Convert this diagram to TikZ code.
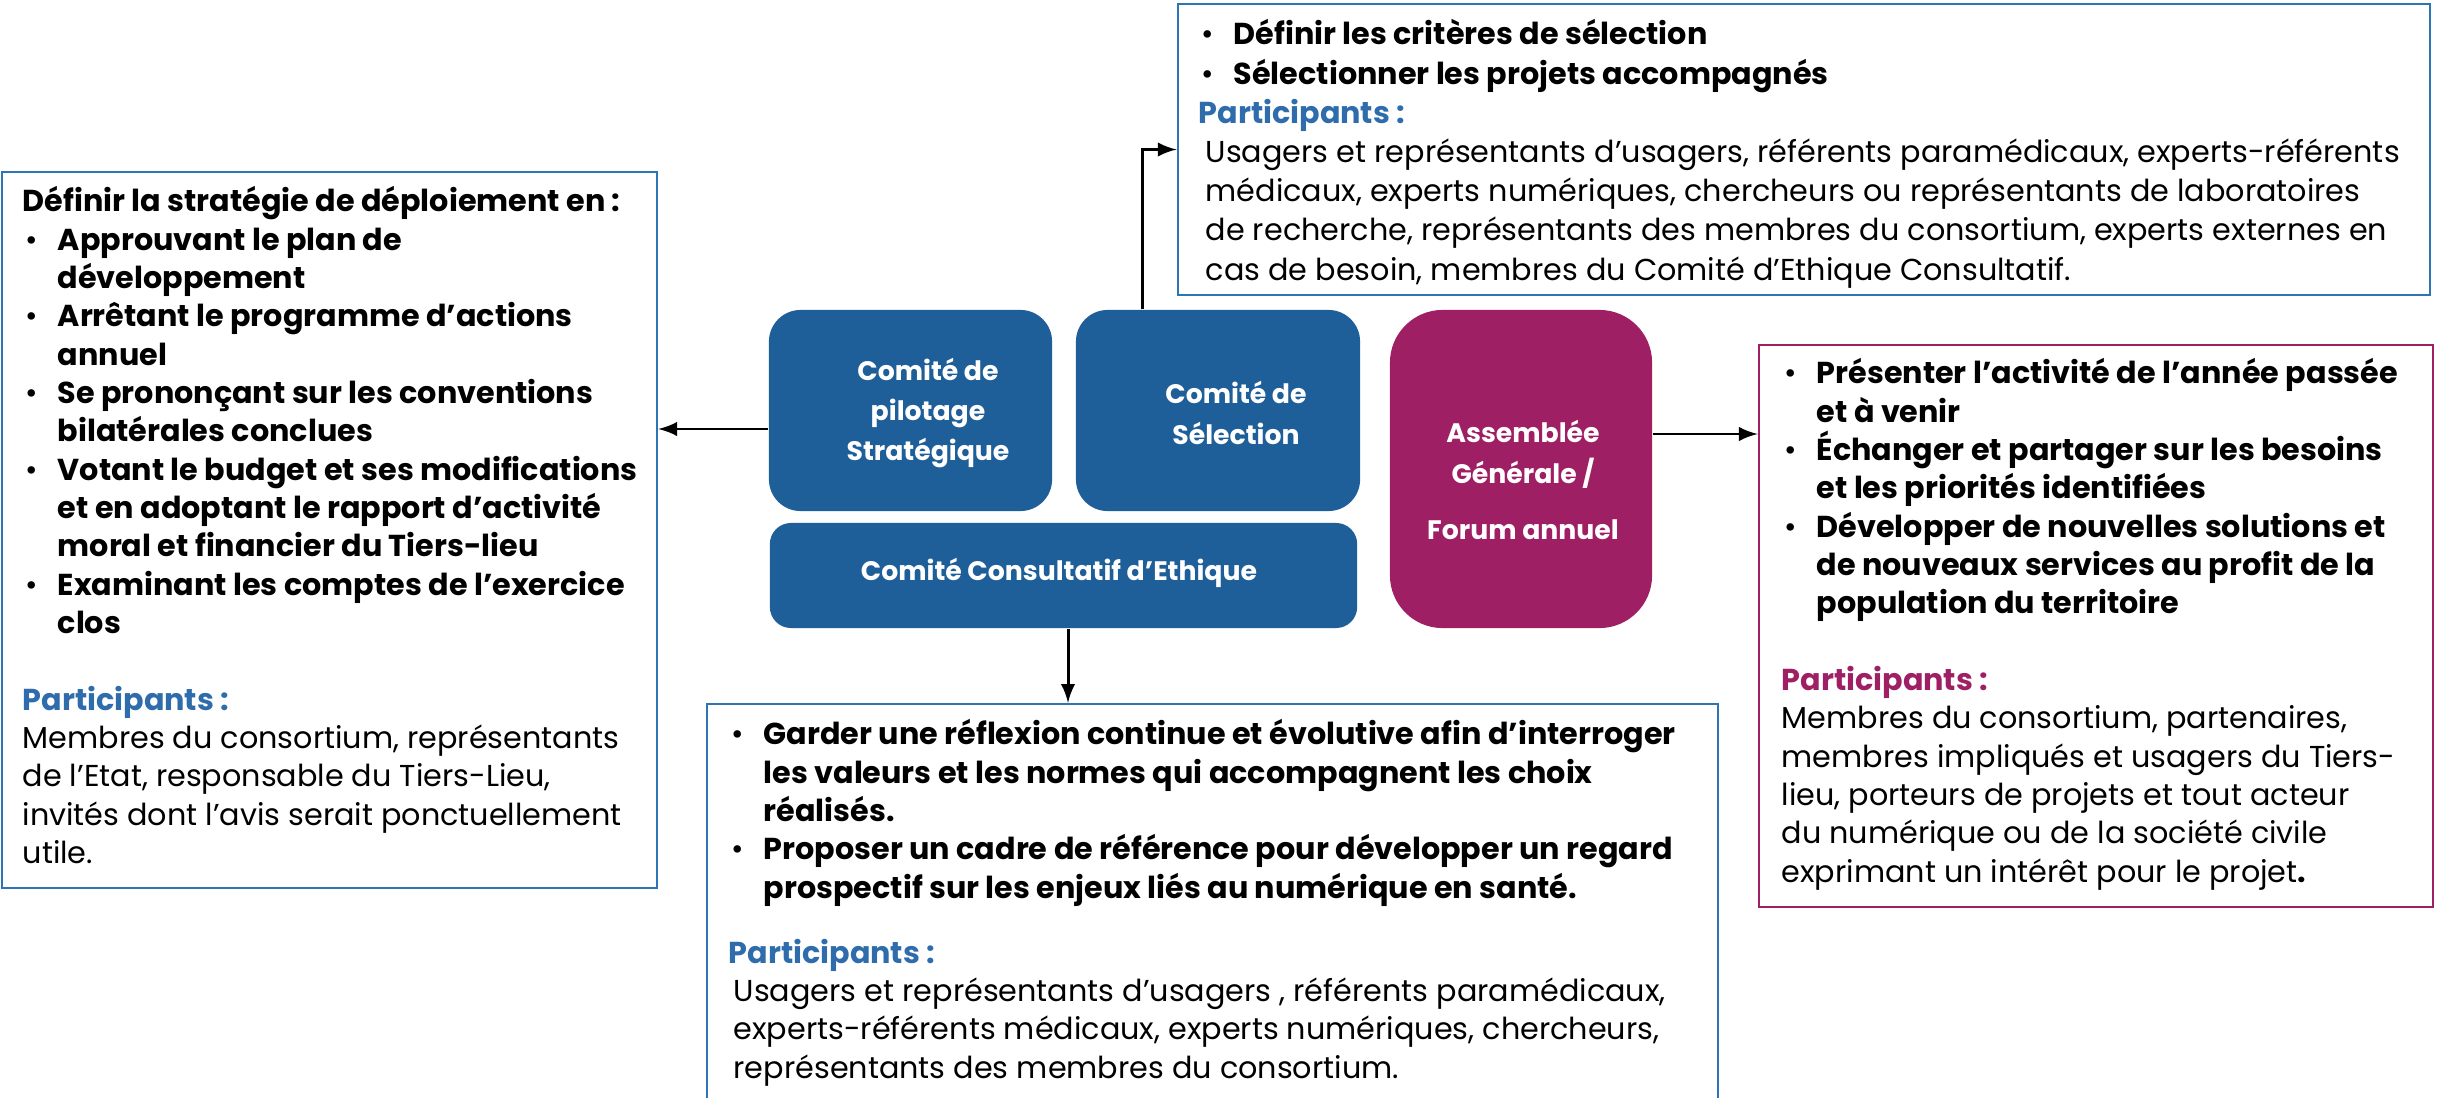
\documentclass[tikz,border=0pt]{standalone}
\usepackage{fontspec}
\setmainfont{Poppins}
\usetikzlibrary{arrows,calc}

\definecolor{bleuComite}{RGB}{31,95,153}
\definecolor{bleuCadre}{RGB}{46,117,182}
\definecolor{bleuTitre}{RGB}{46,108,172}
\definecolor{prune}{RGB}{158,31,99}

\newcommand{\pu}[1]{\hspace*{0.03cm}\makebox[0.32cm][l]{\textbullet}\textbf{#1}}
\newcommand{\su}[1]{\hspace*{0.35cm}\textbf{#1}}

\tikzset{
  comite/.style={fill=bleuComite, inner sep=0pt},
  comtexte/.style={text=white, font=\fontsize{7.6}{11.5}\selectfont\bfseries, align=center, inner sep=0pt},
  cadre/.style={draw=bleuCadre, line width=0.6pt, inner sep=0pt},
  texte/.style={font=\fontsize{8.6}{10.9}\selectfont, align=left, inner sep=0pt, anchor=north west},
  fleche/.style={-latex, line width=0.85pt}
}

\begin{document}
\begin{tikzpicture}[x=0.01cm,y=-0.01cm]
\useasboundingbox (0,0) rectangle (2440,1097);

% les instances
\node[comite, rounded corners=9pt, minimum width=2.83cm, minimum height=2.01cm] (pilot) at (910.5,410.5) {};
\node[comite, rounded corners=9pt, minimum width=2.84cm, minimum height=2.01cm] (sel) at (1218,410.5) {};
\node[comite, rounded corners=6pt, minimum width=5.87cm, minimum height=1.05cm] (ethic) at (1063.5,575.5) {};
\node[comite, fill=prune, rounded corners=15pt, minimum width=2.62cm, minimum height=3.18cm] (ag) at (1521,469) {};

\node[comtexte] (pilotTxt) at (928,413) {Comité de\\pilotage\\Stratégique};
\node[comtexte] (selTxt) at (1236,413) {Comité de\\Sélection};
\node[comtexte] (ethicTxt) at (1059,573) {Comité Consultatif d’Ethique};
\node[comtexte] (agTxt) at (1523,480) {Assemblée\\Générale /\\[4.5pt]Forum annuel};

% les cadres
\node[cadre, minimum width=6.55cm, minimum height=7.16cm] (strat) at (329.5,530) {};
\node[cadre, minimum width=12.52cm, minimum height=2.91cm] (crit) at (1804,149.5) {};
\node[cadre, draw=prune, minimum width=6.74cm, minimum height=5.62cm] (forum) at (2096,626) {};
\node[cadre, minimum width=10.11cm, minimum height=4.10cm] (reflex) at (1212.5,909) {};

\node[texte] (stratTxt) at (22,186) {%
\textbf{Définir la stratégie de déploiement en :}\\
\pu{Approuvant le plan de}\\
\su{développement}\\
\pu{Arrêtant le programme d’actions}\\
\su{annuel}\\
\pu{Se prononçant sur les conventions}\\
\su{bilatérales conclues}\\
\pu{Votant le budget et ses modifications}\\
\su{et en adoptant le rapport d’activité}\\
\su{moral et financier du Tiers-lieu}\\
\pu{Examinant les comptes de l’exercice}\\
\su{clos}\\[10.9pt]
{\color{bleuTitre}\textbf{Participants :}}\\
Membres du consortium, représentants\\
de l’Etat, responsable du Tiers-Lieu,\\
invités dont l’avis serait ponctuellement\\
utile.};

\node[texte, font=\fontsize{8.6}{11.15}\selectfont] (critTxt) at (1198,19) {%
\pu{Définir les critères de sélection}\\
\pu{Sélectionner les projets accompagnés}\\
{\color{bleuTitre}\textbf{Participants :}}\\
\hspace*{0.07cm}Usagers et représentants d’usagers, référents paramédicaux, experts-référents\\
\hspace*{0.07cm}médicaux, experts numériques, chercheurs ou représentants de laboratoires\\
\hspace*{0.07cm}de recherche, représentants des membres du consortium, experts externes en\\
\hspace*{0.07cm}cas de besoin, membres du Comité d’Ethique Consultatif.};

\node[texte] (forumTxt) at (1781,358) {%
\pu{Présenter l’activité de l’année passée}\\
\su{et à venir}\\
\pu{Échanger et partager sur les besoins}\\
\su{et les priorités identifiées}\\
\pu{Développer de nouvelles solutions et}\\
\su{de nouveaux services au profit de la}\\
\su{population du territoire}\\[10.9pt]
{\color{prune}\textbf{Participants :}}\\
Membres du consortium, partenaires,\\
membres impliqués et usagers du Tiers-\\
lieu, porteurs de projets et tout acteur\\
du numérique ou de la société civile\\
exprimant un intérêt pour le projet\textbf{.}};

\node[texte] (reflexTxt) at (728,719) {%
\pu{Garder une réflexion continue et évolutive afin d’interroger}\\
\su{les valeurs et les normes qui accompagnent les choix}\\
\su{réalisés.}\\
\pu{Proposer un cadre de référence pour développer un regard}\\
\su{prospectif sur les enjeux liés au numérique en santé.}\\[7.6pt]
{\color{bleuTitre}\textbf{Participants :}}\\
\hspace*{0.05cm}Usagers et représentants d’usagers , référents paramédicaux,\\
\hspace*{0.05cm}experts-référents médicaux, experts numériques, chercheurs,\\
\hspace*{0.05cm}représentants des membres du consortium.};

% les liaisons
\coordinate (yA) at (0,429);
\coordinate (yB) at (0,434);
\coordinate (xT) at (1142,0);
\coordinate (xB) at (1068,0);
\draw[fleche] (pilot.west |- yA) -- (strat.east |- yA);
\draw[fleche] (ag.east |- yB) -- (forum.west |- yB);
\draw[fleche] (sel.north -| xT) |- (crit.west);
\draw[fleche] (ethic.south -| xB) -- (reflex.north -| xB);
\end{tikzpicture}
\end{document}
